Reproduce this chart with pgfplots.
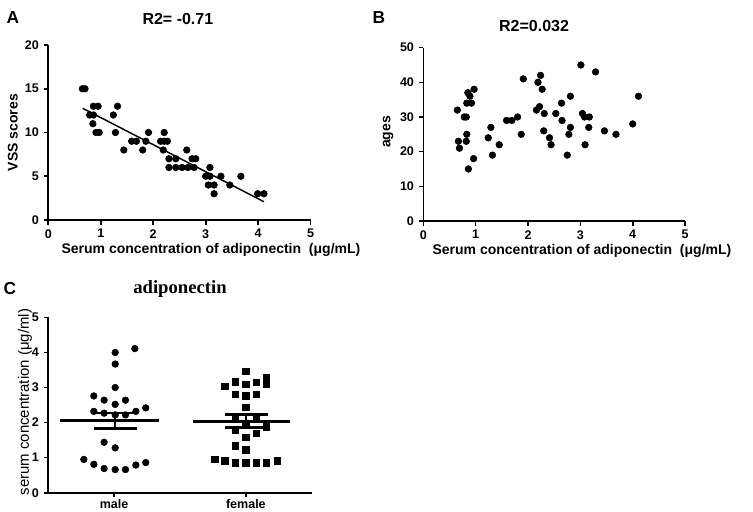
\documentclass[border=0pt]{standalone}
\usepackage{pgfplots}
\pgfplotsset{compat=1.18}
\usepackage{fontspec}
\setmainfont{Liberation Sans}
\newfontfamily\serifbold{Liberation Serif}
\begin{document}
\begin{tikzpicture}
\path[use as bounding box] (0,0) rectangle (564.75pt,383.25pt);
\pgfplotsset{
  panel/.style={
    scale only axis,
    axis lines*=left,
    axis line style={line width=1.2pt,-},
    tick align=outside,
    major tick length=3.5pt,
    tick style={line width=1.2pt,black},
    /pgf/number format/assume math mode=true,
    tick label style={font=\bfseries\fontsize{9.4}{10}\selectfont},
    label style={font=\bfseries\fontsize{10.5}{12}\selectfont},
    every axis title shift=0pt,
    title style={font=\bfseries\fontsize{12}{14}\selectfont},
    clip=false,
  },
  dots/.style={only marks, mark=*, mark size=2.5pt, black, mark options={fill=black}},
}
% Panel A
\begin{axis}[panel,
  at={(36.2pt,218.25pt)}, anchor=south west,
  width=196.8pt, height=131.25pt,
  xmin=0, xmax=5, ymin=0, ymax=20,
  xtick={0,1,2,3,4,5}, ytick={0,5,10,15,20},
  title={R2= -0.71},
  title style={at={(axis description cs:0.494,1.149)},anchor=center},
  xlabel={Serum concentration of adiponectin\ \ (μg/mL)},
  xlabel style={at={(axis description cs:0.62,-0.171)},anchor=center},
  ylabel={VSS scores},
  ylabel style={at={(axis description cs:-0.135,0.5)},anchor=center},
]
\addplot[dots] coordinates {
(0.65,15)(0.70,15)
(0.86,13)(0.95,13)(1.32,13)
(0.79,12)(0.86,12)(1.24,12)
(0.85,11)
(0.91,10)(0.97,10)(1.28,10)(1.91,10)(2.21,10)
(1.59,9)(1.68,9)(1.86,9)(2.14,9)(2.21,9)(2.27,9)
(1.44,8)(1.80,8)(2.19,8)(2.64,8)
(2.30,7)(2.43,7)(2.74,7)(2.81,7)
(2.30,6)(2.43,6)(2.55,6)(2.66,6)(2.78,6)(3.08,6)
(3.00,5)(3.08,5)(3.29,5)(3.67,5)
(3.05,4)(3.16,4)(3.46,4)
(3.16,3)(3.99,3)(4.11,3)
};
\addplot[black, line width=1.1pt] coordinates {(0.655,12.77)(4.11,2.09)};
\end{axis}
% Panel B
\begin{axis}[panel,
  at={(317.5pt,217.5pt)}, anchor=south west,
  width=196.3pt, height=130pt,
  xmin=0, xmax=5, ymin=0, ymax=50,
  xtick={0,1,2,3,4,5}, ytick={0,10,20,30,40,50},
  title={R2=0.032},
  title style={at={(axis description cs:0.423,1.125)},anchor=center},
  xlabel={Serum concentration of adiponectin\ \ (μg/mL)},
  xlabel style={at={(axis description cs:0.606,-0.173)},anchor=center},
  ylabel={ages},
  ylabel style={at={(axis description cs:-0.135,0.514)},anchor=center},
]
\addplot[dots] coordinates {
(0.65,32)(0.67,23)(0.69,21)(0.78,30)(0.82,30)(0.85,37)(0.89,36)
(0.83,34)(0.92,34)(0.97,38)(0.83,25)(0.82,23)(0.86,15)(0.96,18)
(1.24,24)(1.29,27)(1.32,19)(1.45,22)
(1.59,29)(1.69,29)(1.80,30)(1.87,25)(1.91,41)
(2.16,32)(2.19,40)(2.22,33)(2.24,42)(2.27,38)(2.31,31)(2.30,26)
(2.41,24)(2.44,22)(2.53,31)(2.64,34)(2.65,29)(2.75,19)(2.78,25)(2.81,36)(2.81,27)
(3.01,45)(3.04,31)(3.08,30)(3.09,22)(3.16,27)(3.17,30)(3.29,43)(3.46,26)(3.68,25)(4.00,28)(4.11,36)
};
\end{axis}
% Panel C
\begin{axis}[panel,
  at={(36.2pt,13.7pt)}, anchor=south west,
  width=197.6pt, height=131.5pt,
  xmin=0.5, xmax=2.5, ymin=0, ymax=5,
  xtick={1,2}, xticklabels={male,female},
  ytick={0,1,2,3,4,5},
  x tick label style={font=\bfseries\fontsize{9.4}{10}\selectfont, inner sep=0.5pt, yshift=-0.5pt},
  ylabel={serum concentration (μg/ml)},
  ylabel style={at={(axis description cs:-0.088,0.517)},anchor=center,font=\fontsize{11.2}{12}\selectfont},
]
\addplot[dots] coordinates {
(1.157,4.11)(1.008,4.0)(1.008,3.67)(1.008,3.0)
(0.846,2.76)(0.924,2.64)(1.008,2.52)(1.086,2.64)
(0.846,2.32)(0.924,2.27)(1.008,2.22)(1.086,2.22)(1.165,2.32)(1.24,2.42)
(0.924,1.44)(1.008,1.28)
(0.77,0.95)(0.846,0.81)(0.924,0.69)(1.008,0.66)(1.086,0.66)(1.165,0.79)(1.24,0.86)
};
\addplot[only marks, mark=square*, mark size=2.4pt, black, mark options={fill=black}] coordinates {
(1.765,0.95)(1.84,0.91)(1.92,0.86)(2.0,0.86)(2.08,0.86)(2.157,0.86)(2.238,0.91)
(1.84,3.04)(1.92,3.17)(2.0,3.09)(2.08,3.15)(2.157,3.29)(2.157,3.09)(2.0,3.46)
(1.92,2.81)(2.0,2.77)(2.08,2.81)(2.0,2.44)
(1.92,2.13)(2.0,1.98)(2.08,2.18)(2.157,1.88)
(1.92,1.78)(2.0,1.58)(2.08,1.69)(1.92,1.34)(2.0,1.23)
};
% male mean and SEM
\addplot[black, line width=1.6pt] coordinates {(0.587,2.06)(1.342,2.06)};
\addplot[black, line width=1.6pt] coordinates {(1.008,1.83)(1.008,2.28)};
\addplot[black, line width=1.6pt] coordinates {(0.846,2.28)(1.17,2.28)};
\addplot[black, line width=1.6pt] coordinates {(0.846,1.83)(1.17,1.83)};
% female mean and SEM
\addplot[black, line width=1.6pt] coordinates {(1.6,2.03)(2.335,2.03)};
\addplot[black, line width=1.6pt] coordinates {(2.0,1.86)(2.0,2.23)};
\addplot[black, line width=1.6pt] coordinates {(1.84,2.23)(2.17,2.23)};
\addplot[black, line width=1.6pt] coordinates {(1.84,1.86)(2.17,1.86)};
\end{axis}
\node[font=\bfseries\fontsize{13}{15}\selectfont] at (9.75pt,370.1pt) {A};
\node[font=\bfseries\fontsize{13}{15}\selectfont] at (284.25pt,369.75pt) {B};
\node[font=\bfseries\fontsize{13}{15}\selectfont] at (7.5pt,166.5pt) {C};
\node[anchor=base,font=\serifbold\bfseries\fontsize{14}{16}\selectfont] at (135pt,162.75pt) {adiponectin};
\end{tikzpicture}
\end{document}
